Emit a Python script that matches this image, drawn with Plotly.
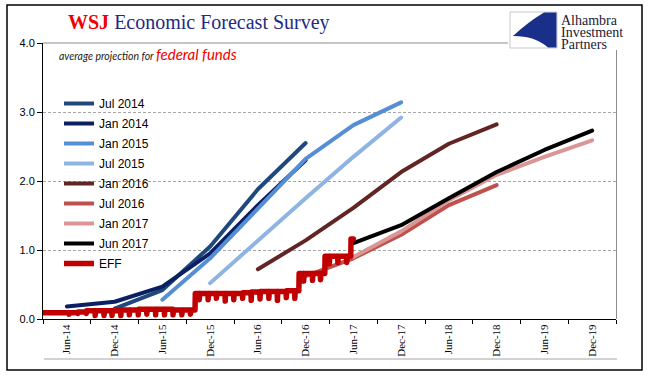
import calendar
import datetime as dt
import plotly.graph_objects as go

# ---------------- data ----------------
cats = ["Jun-14", "Dec-14", "Jun-15", "Dec-15", "Jun-16", "Dec-16",
        "Jun-17", "Dec-17", "Jun-18", "Dec-18", "Jun-19", "Dec-19"]

jul2014_x = ["Dec-14", "Jun-15", "Dec-15", "Jun-16", "Dec-16"]
jul2014_y = [0.15, 0.42, 1.05, 1.88, 2.55]

jan2014_x = ["Jun-14", "Dec-14", "Jun-15", "Dec-15", "Jun-16", "Dec-16"]
jan2014_y = [0.18, 0.25, 0.47, 0.95, 1.65, 2.30]

jan2015_x = ["Jun-15", "Dec-15", "Jun-16", "Dec-16", "Jun-17", "Dec-17"]
jan2015_y = [0.28, 0.88, 1.60, 2.32, 2.81, 3.14]

jul2015_x = ["Dec-15", "Jun-16", "Dec-16", "Jun-17", "Dec-17"]
jul2015_y = [0.52, 1.14, 1.75, 2.35, 2.92]

jan2016_x = ["Jun-16", "Dec-16", "Jun-17", "Dec-17", "Jun-18", "Dec-18"]
jan2016_y = [0.72, 1.14, 1.61, 2.13, 2.54, 2.82]

jul2016_x = ["Dec-16", "Jun-17", "Dec-17", "Jun-18", "Dec-18"]
jul2016_y = [0.62, 0.88, 1.22, 1.65, 1.94]

jan2017_x = ["Jun-17", "Dec-17", "Jun-18", "Dec-18", "Jun-19", "Dec-19"]
jan2017_y = [0.90, 1.27, 1.72, 2.09, 2.35, 2.59]

jun2017_x = ["Jun-17", "Dec-17", "Jun-18", "Dec-18", "Jun-19", "Dec-19"]
jun2017_y = [1.10, 1.36, 1.75, 2.13, 2.45, 2.73]

# effective fed funds: monthly level and month-end value
eff_months = ["2014-07", "2014-08", "2014-09", "2014-10", "2014-11", "2014-12",
              "2015-01", "2015-02", "2015-03", "2015-04", "2015-05", "2015-06",
              "2015-07", "2015-08", "2015-09", "2015-10", "2015-11", "2015-12",
              "2016-01", "2016-02", "2016-03", "2016-04", "2016-05", "2016-06",
              "2016-07", "2016-08", "2016-09", "2016-10", "2016-11", "2016-12",
              "2017-01", "2017-02", "2017-03", "2017-04", "2017-05", "2017-06"]
eff_level = [0.09, 0.09, 0.09, 0.09, 0.10, 0.12,
             0.12, 0.12, 0.12, 0.13, 0.13, 0.14,
             0.14, 0.14, 0.14, 0.13, 0.13, 0.37,
             0.37, 0.37, 0.37, 0.37, 0.37, 0.38,
             0.39, 0.40, 0.40, 0.40, 0.41, 0.66,
             0.66, 0.66, 0.91, 0.91, 0.91, 1.16]
eff_monthend = [0.08, 0.08, 0.07, 0.08, 0.08, 0.05,
                0.05, 0.05, 0.05, 0.06, 0.06, 0.07,
                0.06, 0.06, 0.06, 0.06, 0.07, 0.28,
                0.28, 0.30, 0.26, 0.28, 0.30, 0.27,
                0.29, 0.30, 0.27, 0.31, 0.30, 0.55,
                0.56, 0.57, 0.80, 0.82, 0.82, None]
hike_dates = ["2015-12-17", "2016-12-15", "2017-03-16", "2017-06-15"]
hike_prior = [0.13, 0.41, 0.66, 0.91]
eff_last_date = "2017-06-23"

legend_names = ["Jul 2014", "Jan 2014", "Jan 2015", "Jul 2015", "Jan 2016",
                "Jul 2016", "Jan 2017", "Jun 2017", "EFF"]
colors = ["#1F497D", "#0A2062", "#558ED5", "#8DB4E2", "#632523",
          "#C0504D", "#D99694", "#000000", "#C00000"]

# ---------------- build EFF path points ----------------
hikes = {d[:7]: (dt.date.fromisoformat(d), p) for d, p in zip(hike_dates, hike_prior)}
eff_x, eff_y = [], []
for m, lev, end in zip(eff_months, eff_level, eff_monthend):
    yy, mm = map(int, m.split("-"))
    first = dt.date(yy, mm, 1)
    last = dt.date(yy, mm, calendar.monthrange(yy, mm)[1])
    if m in hikes:
        hd, prior = hikes[m]
        eff_x += [first, hd - dt.timedelta(days=1), hd]
        eff_y += [prior, prior, lev]
    else:
        eff_x.append(first)
        eff_y.append(lev)
    if end is None:
        eff_x.append(dt.date.fromisoformat(eff_last_date))
        eff_y.append(lev)
    else:
        eff_x += [last - dt.timedelta(days=1), last]
        eff_y += [lev, end]

# ---------------- figure ----------------
W, H = 651, 375
L, R, T, B = 43, 35, 43, 56
PW, PH = W - L - R, H - T - B


def px(x):
    return (x - L) / PW


def py(y):
    return (H - B - y) / PH


fig = go.Figure()
series = [(jul2014_x, jul2014_y), (jan2014_x, jan2014_y), (jan2015_x, jan2015_y),
          (jul2015_x, jul2015_y), (jan2016_x, jan2016_y), (jul2016_x, jul2016_y),
          (jan2017_x, jan2017_y), (jun2017_x, jun2017_y)]
for i, (xs, ys) in enumerate(series):
    fig.add_trace(go.Scatter(x=xs, y=ys, mode="lines", name=legend_names[i],
                             legendgroup=legend_names[i],
                             line=dict(color=colors[i], width=4)))
fig.add_trace(go.Scatter(x=eff_x, y=eff_y, mode="lines", name="EFF", legendgroup="EFF",
                         xaxis="x2", line=dict(color=colors[8], width=5.5)))

fig.update_layout(
    width=W, height=H,
    margin=dict(l=L, r=R, t=T, b=B, pad=0, autoexpand=False),
    paper_bgcolor="white", plot_bgcolor="white",
    showlegend=True,
    legend=dict(x=px(59), y=py(89), xanchor="left", yanchor="top",
                bgcolor="rgba(0,0,0,0)", itemwidth=30,
                font=dict(family="Liberation Sans, Arial", size=12, color="black"),
                tracegroupgap=1),
    xaxis=dict(type="category", categoryorder="array", categoryarray=cats,
               range=[-0.5, 11.5], tickson="boundaries", ticks="outside", ticklen=4,
               tickcolor="black", showline=True, linecolor="black", linewidth=1,
               showgrid=False, zeroline=False, tickangle=-90, automargin=False,
               tickfont=dict(family="Liberation Serif, Times New Roman", size=11, color="black")),
    xaxis2=dict(type="date", overlaying="x", anchor="y",
                range=["2014-07-01", "2019-12-31"], visible=False),
    yaxis=dict(range=[0, 4], tickvals=[0, 1, 2, 3, 4], tickformat=".1f",
               ticks="outside", ticklen=5, tickcolor="black", automargin=False,
               showline=True, linecolor="black", linewidth=1,
               showgrid=True, gridcolor="#A6A6A6", gridwidth=1, griddash="3px,2px",
               zeroline=False,
               tickfont=dict(family="Liberation Sans, Arial", size=11, color="black")),
)

shapes = []
shapes.append(dict(type="line", xref="paper", yref="paper", x0=px(43), x1=px(508),
                   y0=py(43), y1=py(43), line=dict(color="#8C8C8C", width=1)))
shapes.append(dict(type="rect", xref="paper", yref="paper", x0=px(508), x1=px(641),
                   y0=py(50), y1=py(7), fillcolor="white", line=dict(width=0)))
shapes.append(dict(type="line", xref="paper", yref="paper", x0=px(616.5), x1=px(616.5),
                   y0=py(50), y1=py(319), line=dict(color="#8C8C8C", width=1)))
shapes.append(dict(type="line", xref="paper", yref="paper", x0=px(44), x1=px(617),
                   y0=py(359), y1=py(359), line=dict(color="#A6A6A6", width=1)))
shapes.append(dict(type="rect", xref="paper", yref="paper", x0=px(7), x1=px(642),
                   y0=py(370), y1=py(5), line=dict(color="black", width=1.5)))
shapes.append(dict(type="rect", xref="paper", yref="paper", x0=px(510), x1=px(557),
                   y0=py(48), y1=py(12), fillcolor="white",
                   line=dict(color="#C8C8C8", width=1)))


def pth(pts):
    out = []
    for cmd, coords in pts:
        s = cmd
        s += " ".join(f"{px(a):.5f},{py(b):.5f}" for a, b in coords)
        out.append(s)
    return " ".join(out) + " Z"


logo_path = pth([("M", [(544, 12.5)]), ("L", [(556.5, 12.5)]), ("L", [(556.5, 47.5)]),
                 ("L", [(548, 47.5)]), ("Q", [(535, 36), (513, 36)]),
                 ("Q", [(528, 22), (544, 12.5)])])
shapes.append(dict(type="path", xref="paper", yref="paper", path=logo_path,
                   fillcolor="#1A2F8A", line=dict(width=0)))
fig.update_layout(shapes=shapes)

ann = []
ann.append(dict(xref="paper", yref="paper", x=px(66), y=py(23), xanchor="left",
                yanchor="middle", showarrow=False,
                text="<b>WSJ</b> <span style='color:#1E2A86'>Economic Forecast Survey</span>",
                font=dict(family="Liberation Serif, Times New Roman", size=20, color="#F00000")))
ann.append(dict(xref="paper", yref="paper", x=px(57), y=py(54), xanchor="left",
                yanchor="middle", showarrow=False,
                text="<i>average projection for </i><i><span style='font-size:15px;color:#F00000'>federal funds</span></i>",
                font=dict(family="Lato, Liberation Sans", size=10.5, color="#1A1A1A")))
for txt, yy in [("Alhambra", 20), ("Investment", 32.5), ("Partners", 44.5)]:
    ann.append(dict(xref="paper", yref="paper", x=px(559), y=py(yy), xanchor="left",
                    yanchor="middle", showarrow=False, text=txt,
                    font=dict(family="Liberation Serif, Times New Roman", size=14,
                              color="#1C2033")))
fig.update_layout(annotations=ann)

post = ("document.body.style.margin='0';document.body.style.padding='0';"
        "var s=document.createElement('style');"
        "s.innerHTML='.scatterlayer .js-line{stroke-linejoin:round !important;"
        "stroke-linecap:round !important}';document.head.appendChild(s);")
fig.write_html("out.html", post_script=post, config={"displayModeBar": False})
